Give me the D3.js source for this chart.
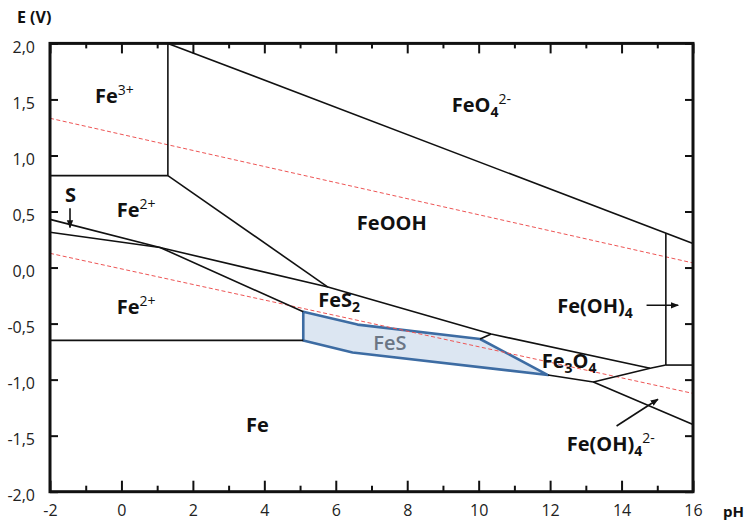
<!DOCTYPE html>
<html><head><meta charset="utf-8">
<script src="https://cdn.jsdelivr.net/npm/d3@7"></script>
<style>body{margin:0;background:#fff} svg{display:block}</style>
</head><body><svg id="c" width="747" height="522"></svg>
<script>
// ---- tick values / labels ----
const xTickValues = d3.range(-2, 17, 1);
const xTickLabels = {"-2":"-2","0":"0","2":"2","4":"4","6":"6","8":"8","10":"10","12":"12","14":"14","16":"16"};
const yTickValues = [-2,-1.5,-1,-0.5,0,0.5,1,1.5,2];
const yTickLabels = ["-2,0","-1,5","-1,0","-0,5","0,0","0,5","1,0","1,5","2,0"];

// ---- boundary lines, [pH, E(V)] ----
const fe3Vertical   = [[1.30,2.0],[1.30,0.82]];
const fe3Fe2        = [[-2,0.82],[1.30,0.82]];
const feo4Boundary  = [[1.30,2.0],[16,0.215]];
const fe2Feooh      = [[1.30,0.82],[5.78,-0.174]];
const sUpper        = [[-2,0.43],[1.08,0.179],[5.09,-0.394]];
const sLower        = [[-2,0.315],[1.08,0.179],[5.78,-0.174],[10.35,-0.593],[14.80,-0.899],[15.24,-0.87]];
const feoh4Vertical = [[15.24,0.308],[15.24,-0.87]];
const feoh4Lower    = [[15.24,-0.87],[16,-0.87]];
const fe2Fe         = [[-2,-0.65],[5.09,-0.65]];
const fesFes2Link   = [[10.04,-0.6375],[10.35,-0.593]];
const fe3o4Lower    = [[11.94,-0.959],[13.21,-1.021],[16,-1.40]];
const fe3o4Right    = [[13.21,-1.021],[14.80,-0.899]];
const fesPolygon    = [[5.09,-0.394],[6.61,-0.509],[10.04,-0.6375],[11.94,-0.959],[6.47,-0.758],[5.09,-0.65]];
const waterUpper    = [[-2,1.332],[16,0.041]];
const waterLower    = [[-2,0.127],[16,-1.123]];

const boundaries = [fe3Vertical, fe3Fe2, feo4Boundary, fe2Feooh, sUpper, sLower,
  feoh4Vertical, feoh4Lower, fe2Fe, fesFes2Link, fe3o4Lower, fe3o4Right];
const waterLines = [waterUpper, waterLower];

// ---- arrows ----
const arrows = [
  {from:[-1.44,0.53],  to:[-1.44,0.357]},
  {from:[14.70,-0.337], to:[15.585,-0.337]},
  {from:[13.86,-1.414], to:[15.02,-1.175]}
];

// ---- species labels (anchor pH, E) ----
const labels = [
  {pH:-0.74, E:1.468, parts:[{t:"Fe"},{t:"3+",sup:1}]},
  {pH:-0.13, E:0.451, parts:[{t:"Fe"},{t:"2+",sup:1}]},
  {pH:-0.13, E:-0.414, parts:[{t:"Fe"},{t:"2+",sup:1}]},
  {pH:-1.58, E:0.5875, parts:[{t:"S"}]},
  {pH:6.59, E:0.335, parts:[{t:"FeOOH"}]},
  {pH:9.245, E:1.39, parts:[{t:"FeO"},{t:"4",sub:1},{t:"2-",sup:1}]},
  {pH:5.51, E:-0.349, parts:[{t:"FeS"},{t:"2",sub:1}]},
  {pH:11.765, E:-0.899, parts:[{t:"Fe"},{t:"3",sub:1},{t:"O"},{t:"4",sub:1}]},
  {pH:12.2, E:-0.408, parts:[{t:"Fe(OH)"},{t:"4",sub:1}]},
  {pH:12.465, E:-1.637, parts:[{t:"Fe(OH)"},{t:"4",sub:1},{t:"2-",sup:1}]},
  {pH:3.487, E:-1.465, parts:[{t:"Fe"}]}
];
const fesLabel = {pH:7.05, E:-0.736, text:"FeS"};

// ---- layout ----
const svg = d3.select("#c");
const mLeft = 50, mRight = 693, mTop = 43.4, mBottom = 491.7;
const x = d3.scaleLinear().domain([-2,16]).range([mLeft,mRight]);
const y = d3.scaleLinear().domain([-2,2]).range([mBottom,mTop]);
const line = d3.line().x(d=>x(d[0])).y(d=>y(d[1]));
const FONT = "'Open Sans', 'DejaVu Sans', sans-serif";

svg.append("defs").append("marker")
  .attr("id","ah").attr("viewBox","0 0 10 10").attr("refX",9).attr("refY",5)
  .attr("markerWidth",8).attr("markerHeight",8).attr("markerUnits","userSpaceOnUse")
  .attr("orient","auto")
  .append("path").attr("d","M0,1 L10,5 L0,9 Z").attr("fill","#111");

// FeS polygon
svg.append("path").attr("d", line(fesPolygon) + "Z")
  .attr("fill","#dce6f2").attr("stroke","#3d6ca3").attr("stroke-width",2.6)
  .attr("stroke-linejoin","round");

// water lines
svg.selectAll(".water").data(waterLines).join("path")
  .attr("d", line).attr("fill","none").attr("stroke","#ee5555")
  .attr("stroke-width",1).attr("stroke-dasharray","4,2.5");

// boundaries
svg.selectAll(".bnd").data(boundaries).join("path")
  .attr("d", line).attr("fill","none").attr("stroke","#111")
  .attr("stroke-width",1.6).attr("stroke-linejoin","round");

// arrows
svg.selectAll(".arr").data(arrows).join("line")
  .attr("x1",d=>x(d.from[0])).attr("y1",d=>y(d.from[1]))
  .attr("x2",d=>x(d.to[0])).attr("y2",d=>y(d.to[1]))
  .attr("stroke","#111").attr("stroke-width",1.6).attr("marker-end","url(#ah)");

// axes
const axB = svg.append("g").attr("transform",`translate(0,${mBottom})`)
  .call(d3.axisBottom(x).tickValues(xTickValues).tickSize(-11).tickPadding(13)
    .tickFormat(d => xTickLabels[String(d)] || ""));
axB.selectAll(".tick line").attr("y2", d => d%2===0 ? -11 : -6);
const axT = svg.append("g").attr("transform",`translate(0,${mTop})`)
  .call(d3.axisTop(x).tickValues(xTickValues).tickSize(-10).tickFormat(""));
axT.selectAll(".tick line").attr("y2", d => d%2===0 ? 10 : 5);
const axL = svg.append("g").attr("transform",`translate(${mLeft},0)`)
  .call(d3.axisLeft(y).tickValues(yTickValues).tickSize(-8).tickPadding(15)
    .tickFormat((d,i) => yTickLabels[i]));
axL.selectAll(".tick text").attr("y",4);
const axR = svg.append("g").attr("transform",`translate(${mRight},0)`)
  .call(d3.axisRight(y).tickValues(yTickValues).tickSize(-8).tickFormat(""));
[axB,axT,axL,axR].forEach(g=>{
  g.select(".domain").remove();
  g.selectAll(".tick line").attr("stroke","#111").attr("stroke-width",2);
  g.selectAll(".tick text").attr("font-family",FONT).attr("font-size",16).attr("fill","#222");
});

// frame
svg.append("rect").attr("x",mLeft).attr("y",mTop).attr("width",mRight-mLeft).attr("height",mBottom-mTop)
  .attr("fill","none").attr("stroke","#111").attr("stroke-width",3);

// axis titles
svg.append("text").attr("x",17).attr("y",23).text("E (V)")
  .attr("font-family",FONT).attr("font-weight",700).attr("font-size",16).attr("fill","#111");
svg.append("text").attr("x",723).attr("y",517).text("pH")
  .attr("font-family",FONT).attr("font-weight",700).attr("font-size",15).attr("fill","#111");

// species labels
labels.forEach(L => {
  const t = svg.append("text").attr("x",x(L.pH)).attr("y",y(L.E))
    .attr("font-family",FONT).attr("font-weight",700).attr("font-size",20).attr("fill","#111");
  let shift = 0;
  L.parts.forEach(p => {
    const target = p.sub ? 5 : p.sup ? -8 : 0;
    const ts = t.append("tspan").attr("dy", target - shift).text(p.t);
    if (p.sub) ts.attr("font-size",14);
    if (p.sup) ts.attr("font-size",14).attr("font-weight",400);
    shift = target;
  });
});
svg.append("text").attr("x",x(fesLabel.pH)).attr("y",y(fesLabel.E)).text(fesLabel.text)
  .attr("font-family",FONT).attr("font-weight",600).attr("font-size",20).attr("fill","#6b7685");
</script></body></html>
